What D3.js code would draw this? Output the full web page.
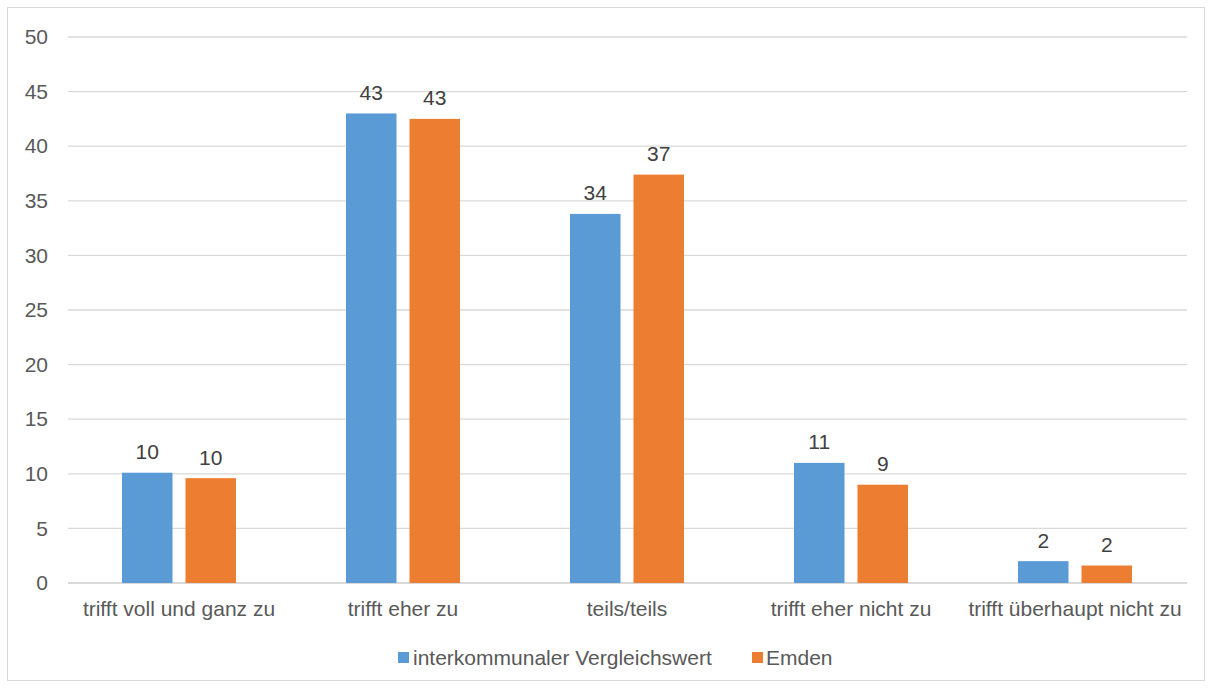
<!DOCTYPE html>
<html><head><meta charset="utf-8">
<script src="https://cdn.jsdelivr.net/npm/d3@7"></script>
<style>body{margin:0;background:#fff}svg{display:block;font-family:"Liberation Sans",Arial,sans-serif}</style>
</head><body>
<script>
const categories = ["trifft voll und ganz zu","trifft eher zu","teils/teils","trifft eher nicht zu","trifft überhaupt nicht zu"];
const seriesNames = ["interkommunaler Vergleichswert","Emden"];
const vergleich = [10.1, 43.0, 33.8, 11.0, 2.0];
const emden = [9.6, 42.5, 37.4, 9.0, 1.6];
const vergleichLabels = ["10","43","34","11","2"];
const emdenLabels = ["10","43","37","9","2"];
const yTicks = [0,5,10,15,20,25,30,35,40,45,50];
const colors = ["#5B9BD5","#ED7D31"];

const W=1212,H=688;
const svg=d3.select("body").append("svg").attr("width",W).attr("height",H);
svg.append("rect").attr("x",7.5).attr("y",7.5).attr("width",1197).attr("height",673).attr("fill","#fff").attr("stroke","#D9D9D9");

const gLeft=68,gRight=1187,pTop=37,pBottom=583;
const FS=21;
const x=d3.scaleBand().domain(categories).range([67,1187]);
const y=d3.scaleLinear().domain([0,50]).range([pBottom,pTop]);

// grid
svg.append("g").selectAll("line").data(yTicks).join("line")
  .attr("x1",gLeft).attr("x2",gRight).attr("y1",d=>y(d)).attr("y2",d=>y(d))
  .attr("stroke","#D9D9D9").attr("stroke-width",d=>d===0?2:1.3);

// y axis labels
const yAxis=d3.axisLeft(y).tickValues(yTicks).tickSize(0).tickPadding(0);
const ga=svg.append("g").attr("transform",`translate(48,0)`).call(yAxis);
ga.attr("font-size",FS).attr("font-family","Liberation Sans, Arial, sans-serif");
ga.select(".domain").remove();
ga.selectAll("text").attr("fill","#595959").attr("text-anchor","end");

const barW=50.5, gap=13;
const data=[vergleich,emden], labs=[vergleichLabels,emdenLabels];
data.forEach((vals,s)=>{
  const g=svg.append("g");
  const off=s===0?-(gap/2+barW):gap/2;
  g.selectAll("rect").data(vals).join("rect")
    .attr("x",(d,i)=>x(categories[i])+x.bandwidth()/2+off)
    .attr("y",d=>y(d)).attr("width",barW).attr("height",d=>y(0)-y(d))
    .attr("fill",colors[s]);
  g.selectAll("text").data(vals).join("text")
    .attr("x",(d,i)=>x(categories[i])+x.bandwidth()/2+off+barW/2)
    .attr("y",d=>y(d)-13.5).attr("text-anchor","middle")
    .attr("font-size",FS).attr("fill","#404040")
    .text((d,i)=>labs[s][i]);
});

// category labels
svg.append("g").selectAll("text").data(categories).join("text")
  .attr("x",d=>x(d)+x.bandwidth()/2).attr("y",615.5).attr("text-anchor","middle")
  .attr("font-size",FS).attr("fill","#595959").text(d=>d);

// legend
const leg=[{x:398,tx:413},{x:752,tx:766}];
seriesNames.forEach((n,i)=>{
  svg.append("rect").attr("x",leg[i].x).attr("y",652).attr("width",11).attr("height",11).attr("fill",colors[i]);
  svg.append("text").attr("x",leg[i].tx).attr("y",664.5).attr("font-size",FS).attr("fill","#595959").text(n);
});
</script>
</body></html>
